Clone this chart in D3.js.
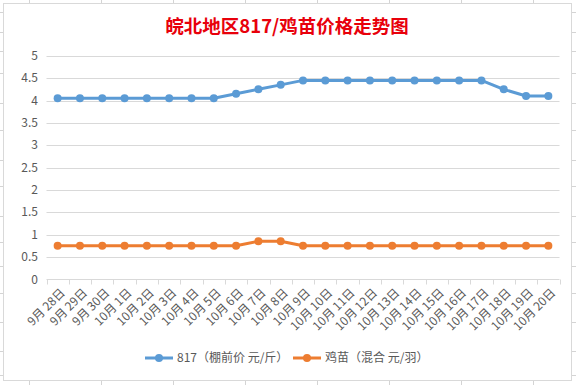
<!DOCTYPE html>
<html>
<head>
<meta charset="utf-8">
<script src="https://cdn.jsdelivr.net/npm/d3@7"></script>
<style>
  body { margin: 0; background: #fff; }
  svg { display: block; font-family: "Noto Sans CJK SC", "Noto Sans", sans-serif; }
</style>
</head>
<body>
<div id="chart"></div>
<script>
// dates on the x axis
const dates = ["9月 28日", "9月 29日", "9月 30日", "10月 1日", "10月 2日", "10月 3日", "10月 4日",
  "10月 5日", "10月 6日", "10月 7日", "10月 8日", "10月 9日", "10月 10日", "10月 11日", "10月 12日",
  "10月 13日", "10月 14日", "10月 15日", "10月 16日", "10月 17日", "10月 18日", "10月 19日", "10月 20日"];

// 817 (棚前价 元/斤)
const price817 = [4.05, 4.05, 4.05, 4.05, 4.05, 4.05, 4.05, 4.05, 4.15, 4.25, 4.35, 4.45, 4.45,
  4.45, 4.45, 4.45, 4.45, 4.45, 4.45, 4.45, 4.25, 4.1, 4.1];

// 鸡苗 (混合 元/羽)
const chickPrice = [0.75, 0.75, 0.75, 0.75, 0.75, 0.75, 0.75, 0.75, 0.75, 0.85, 0.85, 0.75, 0.75,
  0.75, 0.75, 0.75, 0.75, 0.75, 0.75, 0.75, 0.75, 0.75, 0.75];

const yTicks = [0, 0.5, 1, 1.5, 2, 2.5, 3, 3.5, 4, 4.5, 5];

const seriesNames = ["817（棚前价 元/斤）", "鸡苗（混合 元/羽）"];
const seriesColors = ["#5b9bd5", "#ed7d31"];

const width = 576, height = 385;
const svg = d3.select("#chart").append("svg")
  .attr("width", width)
  .attr("height", height);

// spreadsheet cells behind the chart
const sheet = svg.append("g").attr("stroke", "#d4d4d4").attr("stroke-width", 1);
d3.range(29.5, width, 72).forEach(x => {
  sheet.append("line").attr("x1", x).attr("x2", x).attr("y1", 0).attr("y2", height);
});
[12.5, 32.5, 51.5, 73.5, 103.5, 130.5, 160.5, 186.5, 216.5, 242.5, 266.5, 293.5, 322.5, 351.5, 375.5].forEach(y => {
  sheet.append("line").attr("x1", 0).attr("x2", width).attr("y1", y).attr("y2", y);
});

// chart area
svg.append("rect")
  .attr("x", 3.5).attr("y", 3.5)
  .attr("width", 568).attr("height", 377)
  .attr("fill", "#fff")
  .attr("stroke", "#d9d9d9");

const margin = { left: 46.5, right: 559.5, top: 55.8, bottom: 279.3 };

const x = d3.scaleBand()
  .domain(dates)
  .range([margin.left, margin.right]);

const y = d3.scaleLinear()
  .domain([0, 5])
  .range([margin.bottom, margin.top]);

// title
svg.append("text")
  .attr("x", 287)
  .attr("y", 33)
  .attr("text-anchor", "middle")
  .attr("fill", "#e8000b")
  .attr("font-size", "18.5px")
  .attr("font-weight", "bold")
  .text("皖北地区817/鸡苗价格走势图");

// gridlines
svg.append("g")
  .selectAll("line")
  .data(yTicks.filter(d => d > 0))
  .enter().append("line")
  .attr("x1", margin.left).attr("x2", margin.right)
  .attr("y1", d => Math.round(y(d)) + 0.5)
  .attr("y2", d => Math.round(y(d)) + 0.5)
  .attr("stroke", "#d9d9d9");

// y axis labels
svg.append("g")
  .selectAll("text")
  .data(yTicks)
  .enter().append("text")
  .attr("x", 38)
  .attr("y", d => y(d))
  .attr("dy", "0.35em")
  .attr("text-anchor", "end")
  .attr("fill", "#595959")
  .attr("font-size", "12px")
  .text(d => d);

// x axis
const xAxis = svg.append("g")
  .attr("transform", `translate(0,${Math.round(margin.bottom) + 0.5})`);
xAxis.append("line")
  .attr("x1", margin.left).attr("x2", margin.right)
  .attr("stroke", "#d9d9d9");
xAxis.selectAll(".tick")
  .data(dates.concat(["end"]))
  .enter().append("line")
  .attr("x1", (d, i) => Math.round(margin.left + i * x.bandwidth()) + 0.5)
  .attr("x2", (d, i) => Math.round(margin.left + i * x.bandwidth()) + 0.5)
  .attr("y1", 0).attr("y2", 5)
  .attr("stroke", "#d9d9d9");

xAxis.selectAll("text")
  .data(dates)
  .enter().append("text")
  .attr("transform", d => `translate(${x(d) + x.bandwidth() / 2 + 5},${11}) rotate(-45)`)
  .attr("text-anchor", "end")
  .attr("dy", "0.35em")
  .attr("fill", "#595959")
  .attr("font-size", "12px")
  .text(d => d);

// lines
const series = [price817, chickPrice];
const line = d3.line()
  .x((d, i) => x(dates[i]) + x.bandwidth() / 2)
  .y(d => y(d));

series.forEach((values, k) => {
  const g = svg.append("g");
  g.append("path")
    .datum(values)
    .attr("d", line)
    .attr("fill", "none")
    .attr("stroke", seriesColors[k])
    .attr("stroke-width", 3)
    .attr("stroke-linejoin", "round");
  g.selectAll("circle")
    .data(values)
    .enter().append("circle")
    .attr("cx", (d, i) => x(dates[i]) + x.bandwidth() / 2)
    .attr("cy", d => y(d))
    .attr("r", 4)
    .attr("fill", seriesColors[k]);
});

// legend
const legendX = [145, 293];
const legend = svg.append("g").attr("transform", "translate(0,358)");
seriesNames.forEach((name, k) => {
  const lg = legend.append("g").attr("transform", `translate(${legendX[k]},0)`);
  lg.append("line")
    .attr("x1", 0).attr("x2", 28)
    .attr("stroke", seriesColors[k])
    .attr("stroke-width", 3);
  lg.append("circle")
    .attr("cx", 14).attr("r", 4)
    .attr("fill", seriesColors[k]);
  lg.append("text")
    .attr("x", 32)
    .attr("dy", "0.35em")
    .attr("fill", "#595959")
    .attr("font-size", "12px")
    .text(name);
});
</script>
</body>
</html>
